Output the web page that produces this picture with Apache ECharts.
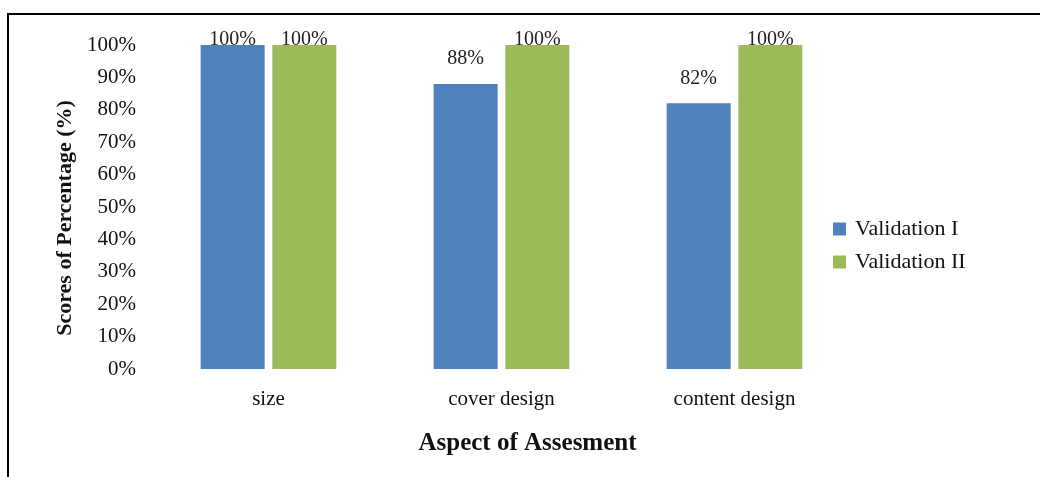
<!DOCTYPE html>
<html>
<head>
<meta charset="utf-8">
<script src="https://cdn.jsdelivr.net/npm/echarts@6/dist/echarts.min.js"></script>
<style>
    html, body { margin: 0; padding: 0; background: #fff; }
    #chart { width: 1040px; height: 477px; }
</style>
</head>
<body>
<div id="chart"></div>
<script>
    // 数据
    var aspects = ['size', 'cover design', 'content design'];
    var validation1 = [100, 88, 82];
    var validation2 = [100, 100, 100];
    var yTicks = [0, 10, 20, 30, 40, 50, 60, 70, 80, 90, 100];

    var serif = '"Liberation Serif", "DejaVu Serif", serif';

    // 100%的标签压在柱顶上，其余离得远一些
    function toItems(values) {
        return values.map(function (v) {
            return {
                value: v,
                label: { distance: v >= 100 ? -5 : 15 }
            };
        });
    }

    var chart = echarts.init(document.getElementById('chart'));
    chart.setOption({
        backgroundColor: '#fff',
        animation: false,
        graphic: [{
            type: 'rect',
            shape: { x: 8, y: 14, width: 1100, height: 500 },
            style: { fill: 'none', stroke: '#000', lineWidth: 2 },
            silent: true
        }],
        grid: {
            left: 152,
            right: 189,
            top: 45,
            bottom: 108
        },
        legend: {
            orient: 'vertical',
            left: 833,
            top: 218,
            padding: 0,
            itemWidth: 13,
            itemHeight: 13,
            itemGap: 11,
            icon: 'rect',
            textStyle: { fontFamily: serif, fontSize: 22, color: '#111', padding: [0, 0, 0, 4] },
            data: ['Validation I', 'Validation II']
        },
        xAxis: {
            type: 'category',
            data: aspects,
            axisLine: { show: false },
            axisTick: { show: false },
            axisLabel: { fontFamily: serif, fontSize: 21, color: '#111', margin: 20 },
            name: 'Aspect of Assesment',
            nameLocation: 'middle',
            nameGap: 62,
            nameTextStyle: {
                fontFamily: serif, fontSize: 25, fontWeight: 'bold', color: '#111',
                padding: [0, 0, 0, 52]
            }
        },
        yAxis: {
            type: 'value',
            min: yTicks[0],
            max: yTicks[yTicks.length - 1],
            interval: yTicks[1] - yTicks[0],
            axisLine: { show: false },
            axisTick: { show: false },
            splitLine: { show: false },
            axisLabel: {
                fontFamily: serif, fontSize: 21, color: '#111', margin: 16,
                formatter: '{value}%'
            },
            name: 'Scores of Percentage (%)',
            nameLocation: 'middle',
            nameGap: 72,
            nameRotate: 90,
            nameTextStyle: {
                fontFamily: serif, fontSize: 22, fontWeight: 'bold', color: '#111',
                padding: [0, 22, 0, 0]
            }
        },
        series: [{
            name: 'Validation I',
            type: 'bar',
            barWidth: 64,
            barGap: '12%',
            itemStyle: { color: '#4F81BD' },
            label: {
                show: true, position: 'top', formatter: '{c}%',
                fontFamily: serif, fontSize: 20, color: '#222'
            },
            data: toItems(validation1)
        }, {
            name: 'Validation II',
            type: 'bar',
            barWidth: 64,
            itemStyle: { color: '#9BBB59' },
            label: {
                show: true, position: 'top', formatter: '{c}%',
                fontFamily: serif, fontSize: 20, color: '#222'
            },
            data: toItems(validation2)
        }]
    });
</script>
</body>
</html>
